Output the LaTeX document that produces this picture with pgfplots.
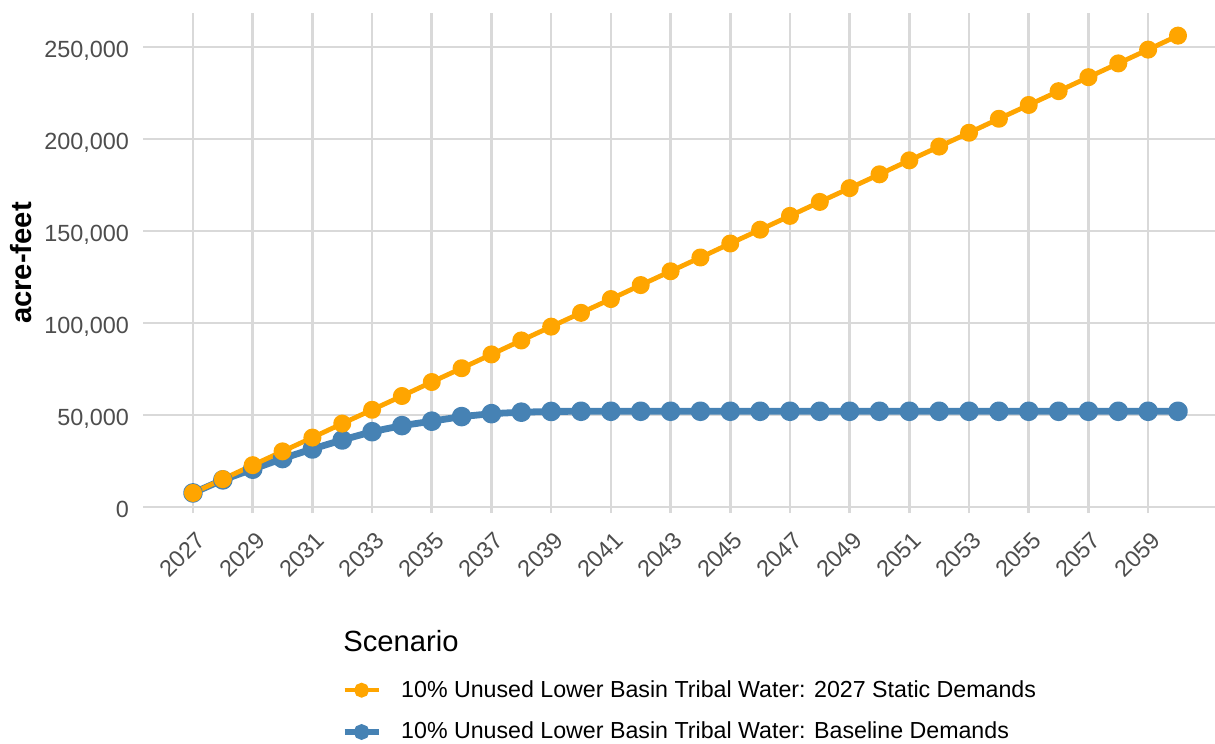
\documentclass[border=0pt]{standalone}
\usepackage{pgfplots}
\pgfplotsset{compat=1.18}
\usepackage{fontspec}
\setmainfont{Liberation Sans}
\definecolor{orng}{HTML}{FFA500}
\definecolor{stblue}{HTML}{4682B4}
\definecolor{gridc}{HTML}{D9D9D9}
\definecolor{tickc}{HTML}{4D4D4D}
\begin{document}
\begin{tikzpicture}
\begin{axis}[
  at={(71.65bp,115.5bp)}, anchor=south west,
  scale only axis, width=535.85bp, height=250bp,
  xmin=2025.335, xmax=2061.24,
  ymin=-3300, ymax=268500,
  axis line style={draw=none},
  major tick length=0pt,
  xtick={2027,2029,...,2059},
  ytick={0,50000,100000,150000,200000,250000},
  grid=major,
  major grid style={gridc, line width=1.3bp},
  /pgf/number format/assume math mode=true,
  scaled y ticks=false,
  tick label style={font=\fontsize{11.7bp}{14bp}\selectfont, text=tickc},
  x tick label style={/pgf/number format/1000 sep={}, xshift=1bp, yshift=-8.5bp, rotate=45, anchor=north east, inner sep=0pt},
  y tick label style={/pgf/number format/.cd, fixed, 1000 sep={,}, /tikz/.cd, anchor=east, inner sep=0pt, xshift=-7bp, yshift=-0.9bp, text height=8.3bp, text depth=0pt},
  ylabel={\bfseries acre-feet},
  ylabel style={at={(axis description cs:-0.10413,0.5)}, anchor=south, inner sep=0pt, rotate=0, font=\fontsize{14.6bp}{17bp}\selectfont},
  legend style={at={(axis description cs:0.18541,-0.3346)}, anchor=north west, draw=none, fill=none, inner sep=0pt, outer sep=0pt, font=\fontsize{11.6bp}{14bp}\selectfont, row sep=11bp, column sep=10bp, nodes={inner sep=0pt, text=black}},
  legend cell align=left,
  legend image code/.code={\draw[mark repeat=2,mark phase=2] plot coordinates {(0bp,0bp)(8.5bp,0bp)(17bp,0bp)};},
]
\addlegendimage{orng, line width=2.2bp, mark=*, mark size=2.6bp, mark options={solid}}
\addlegendentry{10\% Unused Lower Basin Tribal Water: 2027 Static Demands}
\addlegendimage{stblue, line width=2.6bp, mark=*, mark size=2.6bp, mark options={solid}}
\addlegendentry{10\% Unused Lower Basin Tribal Water: Baseline Demands}
\addplot[forget plot, stblue, line width=3.4bp, line join=round, mark=*, mark size=3.2bp] coordinates {
(2027,7600)(2028,14700)(2029,20500)(2030,26300)(2031,31500)(2032,36400)(2033,40900)(2034,44200)(2035,46600)(2036,49100)(2037,50700)(2038,51500)(2039,51900)(2040,52000)(2041,52000)(2042,52000)(2043,52000)(2044,52000)(2045,52000)(2046,52000)(2047,52000)(2048,52000)(2049,52000)(2050,52000)(2051,52000)(2052,52000)(2053,52000)(2054,52000)(2055,52000)(2056,52000)(2057,52000)(2058,52000)(2059,52000)(2060,52000)
};
\addplot[forget plot, orng, line width=2.4bp, line join=round, mark=*, mark size=3.3bp] coordinates {
(2027,7600)(2028,15100)(2029,22700)(2030,30200)(2031,37700)(2032,45300)(2033,52800)(2034,60300)(2035,67900)(2036,75400)(2037,82900)(2038,90500)(2039,98000)(2040,105500)(2041,113000)(2042,120600)(2043,128100)(2044,135600)(2045,143200)(2046,150700)(2047,158200)(2048,165800)(2049,173300)(2050,180800)(2051,188400)(2052,195900)(2053,203400)(2054,211000)(2055,218500)(2056,226000)(2057,233600)(2058,241100)(2059,248600)(2060,256200)
};
\end{axis}
\node[anchor=base west, inner sep=0pt, font=\fontsize{14.6bp}{17bp}\selectfont] at (171.5bp,46bp) {Scenario};
\pgfresetboundingbox
\path[use as bounding box] (0,0) rectangle (607.5bp,372bp);
\end{tikzpicture}
\end{document}
